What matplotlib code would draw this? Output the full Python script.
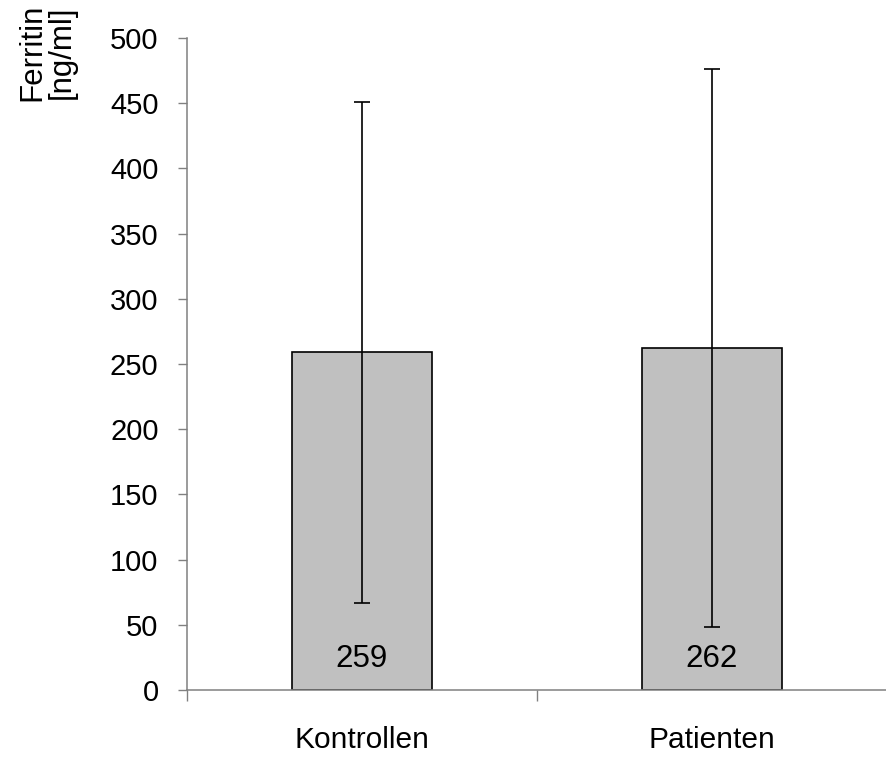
import numpy as np
import matplotlib
matplotlib.use("Agg")
import matplotlib.pyplot as plt

plt.rcParams['font.family'] = ['Liberation Sans', 'DejaVu Sans']

groups = ['Kontrollen', 'Patienten']
means = [259, 262]
sd = [192, 214]
label_y = 24

fig = plt.figure(figsize=(8.87, 7.58), dpi=100)
ax = fig.add_axes([187/887, 1-690/758, 1-187/887, (690-38)/758])

x = np.arange(len(groups))
ax.bar(x, means, width=0.4, color='#c0c0c0', edgecolor='black', linewidth=1.2, zorder=2)
ax.errorbar(x, means, yerr=sd, fmt='none', ecolor='black', elinewidth=1.2,
            capsize=5.8, capthick=1.2, zorder=3)
for xi, m in zip(x, means):
    ax.text(xi, label_y, str(m), ha='center', va='center', fontsize=22.5)

ax.set_ylim(0, 500)
ax.set_xlim(-0.5, 0.5 + (887-541)/354)
ax.set_yticks(np.arange(0, 501, 50))
ax.tick_params(axis='y', labelsize=21, length=6.5, width=1, color='#808080', pad=14)
ax.set_xticks(x)
ax.set_xticklabels(groups)
ax.set_xticks([-0.5, 0.5, 1.5], minor=True)
ax.tick_params(axis='x', which='major', length=0, labelsize=21.5, pad=26)
ax.tick_params(axis='x', which='minor', length=8, width=1, color='#808080', direction='out')

for s in ['top', 'right']:
    ax.spines[s].set_visible(False)
for s in ['left', 'bottom']:
    ax.spines[s].set_color('#808080')
    ax.spines[s].set_linewidth(1.1)

fig.text(47/887, 1-52/758, 'Ferritin\n[ng/ml]', rotation=90, ha='center', va='center',
         fontsize=22.5, multialignment='center', linespacing=1.0)

fig.savefig('out.png', dpi=100)
